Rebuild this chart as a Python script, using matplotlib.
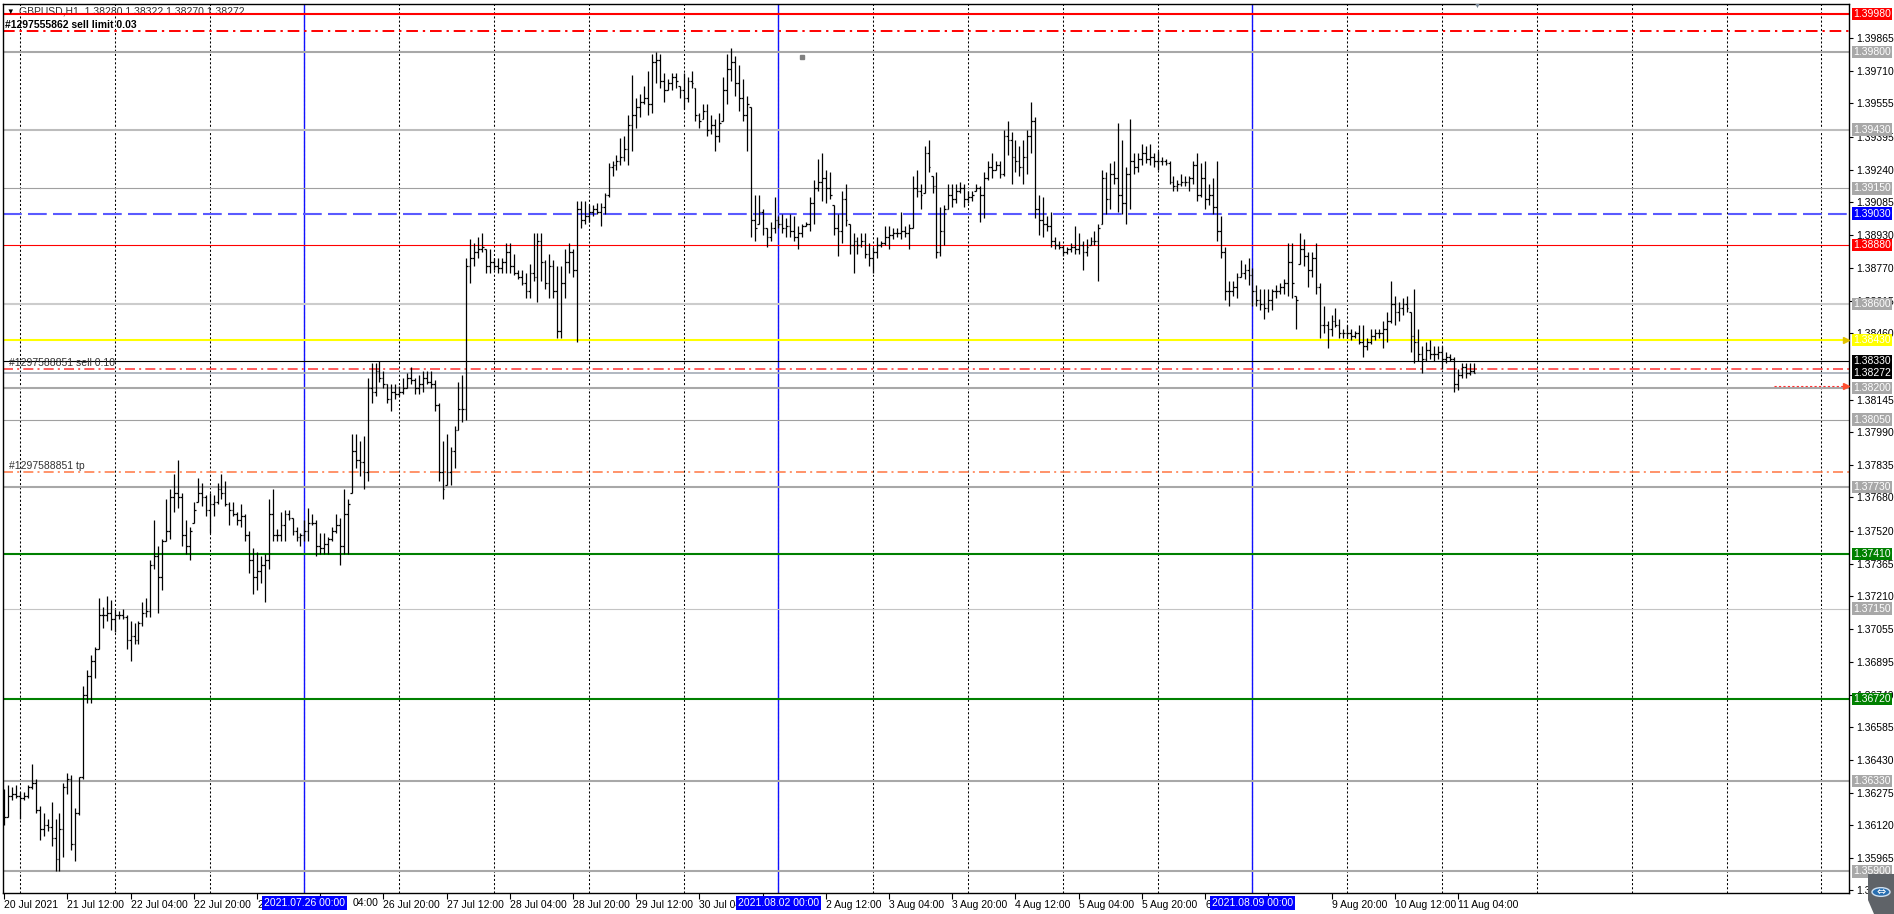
import numpy as np
import matplotlib.pyplot as plt
import matplotlib.transforms as mtransforms
from matplotlib.patches import Polygon, Circle

plt.rcParams['font.family'] = ['Liberation Sans', 'DejaVu Sans']

# GBPUSD H1 bars, prices in points of 0.0001
# week of 20 Jul (bars from 20 Jul 20:00)
high_a = [13629, 13631, 13630, 13631, 13628, 13628, 13631, 13641, 13634, 13621,
          13618, 13615, 13623, 13615, 13618, 13632, 13637, 13636, 13620, 13635,
          13678, 13686, 13693, 13697, 13720, 13716, 13721, 13719, 13715, 13714,
          13715, 13712, 13709, 13708, 13709, 13718, 13720, 13738, 13757, 13745,
          13748, 13767, 13772, 13779, 13786, 13770, 13757, 13754, 13766, 13777,
          13775, 13769, 13770, 13769, 13775, 13779, 13776, 13766, 13766, 13761,
          13765, 13760, 13752, 13744, 13742, 13740, 13741, 13767, 13772, 13753,
          13761, 13762, 13762, 13758, 13754, 13751]
low_a = [13612, 13616, 13624, 13625, 13615, 13624, 13625, 13629, 13618, 13605,
         13607, 13609, 13602, 13590, 13590, 13597, 13627, 13600, 13595, 13617,
         13634, 13670, 13670, 13682, 13696, 13706, 13709, 13705, 13704, 13710,
         13710, 13696, 13690, 13698, 13698, 13707, 13711, 13711, 13734, 13713,
         13724, 13747, 13748, 13761, 13763, 13745, 13741, 13738, 13756, 13766,
         13764, 13759, 13751, 13759, 13765, 13767, 13764, 13755, 13759, 13755,
         13754, 13747, 13732, 13722, 13724, 13727, 13718, 13734, 13747, 13747,
         13747, 13747, 13757, 13750, 13747, 13745]
open_a = [13620, 13616, 13626, 13627, 13626, 13625, 13626, 13630, 13632, 13619,
          13610, 13612, 13611, 13606, 13596, 13610, 13630, 13634, 13603, 13618,
          13635, 13674, 13683, 13690, 13696, 13712, 13712, 13713, 13710, 13712,
          13712, 13711, 13700, 13702, 13700, 13708, 13713, 13714, 13736, 13740,
          13730, 13747, 13752, 13768, 13770, 13768, 13750, 13745, 13756, 13766,
          13770, 13768, 13762, 13765, 13766, 13772, 13770, 13765, 13762, 13760,
          13757, 13759, 13750, 13738, 13730, 13733, 13736, 13738, 13760, 13750,
          13750, 13755, 13760, 13758, 13752, 13749]
close_a = [13616, 13626, 13627, 13626, 13625, 13626, 13630, 13632, 13619, 13610,
           13612, 13611, 13606, 13596, 13610, 13630, 13634, 13603, 13618, 13635,
           13674, 13683, 13690, 13696, 13712, 13712, 13713, 13710, 13712, 13712,
           13711, 13700, 13702, 13700, 13708, 13713, 13714, 13736, 13740, 13730,
           13747, 13752, 13768, 13770, 13768, 13750, 13745, 13752, 13762, 13770,
           13768, 13762, 13765, 13766, 13772, 13770, 13765, 13762, 13760, 13757,
           13759, 13750, 13738, 13730, 13733, 13736, 13738, 13760, 13750, 13750,
           13755, 13760, 13758, 13752, 13749, 13750]

# week of 26 Jul
high_b = [13757, 13763, 13760, 13757, 13751, 13751, 13749, 13754, 13760, 13758,
          13772, 13767, 13798, 13798, 13795, 13797, 13825, 13832, 13832, 13833,
          13828, 13822, 13822, 13822, 13821, 13825, 13827, 13830, 13825, 13826,
          13828, 13828, 13828, 13824, 13813, 13795, 13798, 13792, 13802, 13823,
          13826, 13882, 13891, 13889, 13892, 13894, 13886, 13886, 13882, 13882,
          13882, 13889, 13889, 13884, 13876, 13876, 13875, 13879, 13894, 13894,
          13894, 13881, 13884, 13881, 13878, 13878, 13886, 13889, 13886, 13909,
          13909, 13909, 13907, 13907, 13908, 13908, 13913, 13927, 13928, 13931,
          13939, 13940, 13950, 13969, 13958, 13960, 13964, 13971, 13979, 13980,
          13979, 13970, 13967, 13970, 13970, 13964, 13970, 13968, 13971, 13963,
          13951, 13955, 13955, 13950, 13948, 13951, 13968, 13979, 13982, 13978,
          13974, 13967, 13959, 13954, 13912, 13912, 13905, 13896, 13899, 13911]
low_b = [13747, 13747, 13755, 13740, 13741, 13741, 13741, 13747, 13751, 13736,
         13741, 13741, 13770, 13782, 13778, 13772, 13776, 13813, 13816, 13823,
         13820, 13813, 13809, 13815, 13816, 13817, 13820, 13822, 13817, 13817,
         13818, 13822, 13820, 13809, 13776, 13767, 13774, 13774, 13782, 13800,
         13804, 13805, 13870, 13878, 13882, 13885, 13875, 13875, 13876, 13875,
         13875, 13875, 13875, 13874, 13872, 13869, 13863, 13863, 13871, 13861,
         13871, 13867, 13863, 13863, 13844, 13844, 13863, 13875, 13873, 13842,
         13896, 13898, 13899, 13902, 13903, 13897, 13903, 13911, 13921, 13924,
         13926, 13928, 13926, 13933, 13944, 13949, 13955, 13950, 13951, 13965,
         13963, 13956, 13962, 13962, 13963, 13958, 13953, 13956, 13963, 13947,
         13944, 13948, 13940, 13941, 13933, 13937, 13947, 13955, 13966, 13959,
         13952, 13947, 13933, 13892, 13890, 13898, 13893, 13887, 13890, 13894]
open_b = [13750, 13752, 13756, 13756, 13745, 13744, 13746, 13748, 13752, 13755,
          13745, 13760, 13770, 13790, 13786, 13785, 13780, 13820, 13818, 13828,
          13825, 13822, 13815, 13818, 13817, 13818, 13820, 13825, 13824, 13820,
          13822, 13825, 13823, 13822, 13812, 13780, 13774, 13780, 13790, 13800,
          13810, 13810, 13878, 13882, 13885, 13886, 13886, 13878, 13880, 13878,
          13877, 13880, 13885, 13878, 13875, 13873, 13870, 13866, 13875, 13873,
          13890, 13880, 13870, 13878, 13866, 13847, 13870, 13880, 13885, 13876,
          13905, 13900, 13902, 13904, 13905, 13904, 13906, 13912, 13925, 13926,
          13928, 13930, 13934, 13945, 13950, 13954, 13956, 13958, 13955, 13975,
          13976, 13966, 13962, 13965, 13968, 13964, 13962, 13958, 13966, 13963,
          13950, 13948, 13952, 13943, 13945, 13940, 13947, 13962, 13972, 13975,
          13965, 13958, 13950, 13954, 13900, 13898, 13904, 13896, 13892, 13896]
close_b = [13752, 13756, 13756, 13745, 13744, 13746, 13748, 13752, 13755, 13745,
           13760, 13765, 13790, 13786, 13785, 13780, 13820, 13818, 13828, 13825,
           13822, 13815, 13818, 13817, 13818, 13820, 13825, 13824, 13820, 13822,
           13825, 13823, 13822, 13812, 13780, 13772, 13780, 13790, 13800, 13810,
           13810, 13878, 13882, 13885, 13886, 13887, 13878, 13880, 13878, 13877,
           13880, 13885, 13878, 13875, 13873, 13870, 13866, 13875, 13873, 13890,
           13880, 13870, 13878, 13866, 13847, 13870, 13880, 13885, 13876, 13905,
           13900, 13902, 13904, 13905, 13904, 13906, 13912, 13925, 13926, 13928,
           13930, 13934, 13945, 13950, 13954, 13956, 13958, 13955, 13975, 13976,
           13966, 13962, 13965, 13968, 13966, 13962, 13958, 13966, 13965, 13950,
           13947, 13952, 13943, 13945, 13940, 13946, 13962, 13972, 13975, 13965,
           13958, 13950, 13955, 13900, 13896, 13904, 13896, 13892, 13896, 13900]

# week of 2 Aug
high_c = [13902, 13903, 13901, 13903, 13902, 13897, 13898, 13899, 13911, 13919,
          13929, 13932, 13924, 13923, 13907, 13903, 13914, 13917, 13898, 13894,
          13892, 13894, 13894, 13889, 13887, 13892, 13890, 13897, 13897, 13896,
          13896, 13904, 13897, 13898, 13921, 13924, 13917, 13935, 13938, 13921,
          13923, 13906, 13907, 13917, 13917, 13917, 13918, 13917, 13914, 13914,
          13917, 13916, 13923, 13928, 13932, 13928, 13928, 13943, 13947, 13942,
          13938, 13935, 13938, 13943, 13956, 13949, 13912, 13911, 13902, 13904,
          13892, 13890, 13888, 13887, 13889, 13897, 13894, 13890, 13891, 13892,
          13895, 13898, 13924, 13923, 13927, 13928, 13946, 13938, 13925, 13948,
          13932, 13932, 13936, 13935, 13936, 13932, 13933, 13930, 13929, 13928,
          13921, 13919, 13922, 13921, 13921, 13928, 13932, 13927, 13928, 13917,
          13920, 13928, 13902, 13887, 13871, 13871, 13875, 13881, 13879, 13882]
low_c = [13896, 13894, 13892, 13892, 13890, 13886, 13892, 13897, 13895, 13898,
         13914, 13909, 13908, 13910, 13893, 13883, 13889, 13897, 13884, 13875,
         13884, 13887, 13882, 13878, 13875, 13882, 13887, 13888, 13886, 13891,
         13892, 13891, 13892, 13886, 13896, 13911, 13905, 13913, 13923, 13913,
         13882, 13883, 13888, 13905, 13906, 13908, 13913, 13906, 13908, 13909,
         13914, 13899, 13901, 13919, 13920, 13924, 13920, 13921, 13931, 13917,
         13923, 13921, 13917, 13922, 13932, 13901, 13893, 13892, 13895, 13887,
         13886, 13886, 13883, 13884, 13885, 13884, 13884, 13876, 13883, 13888,
         13888, 13871, 13898, 13903, 13905, 13917, 13904, 13903, 13898, 13905,
         13922, 13923, 13926, 13927, 13926, 13925, 13924, 13926, 13926, 13917,
         13914, 13914, 13916, 13916, 13914, 13917, 13909, 13911, 13905, 13907,
         13903, 13890, 13882, 13862, 13859, 13864, 13863, 13873, 13872, 13869]
open_c = [13900, 13898, 13896, 13897, 13895, 13892, 13894, 13897, 13898, 13908,
          13915, 13918, 13920, 13915, 13907, 13896, 13895, 13910, 13898, 13888,
          13890, 13888, 13890, 13884, 13882, 13885, 13888, 13889, 13892, 13893,
          13894, 13894, 13895, 13894, 13896, 13915, 13914, 13913, 13932, 13921,
          13916, 13885, 13895, 13905, 13912, 13910, 13914, 13915, 13910, 13911,
          13914, 13915, 13912, 13920, 13925, 13924, 13926, 13922, 13940, 13938,
          13930, 13928, 13925, 13930, 13940, 13947, 13905, 13900, 13898, 13897,
          13890, 13888, 13887, 13885, 13886, 13887, 13886, 13888, 13885, 13888,
          13890, 13890, 13898, 13920, 13910, 13922, 13920, 13912, 13908, 13922,
          13928, 13925, 13929, 13932, 13929, 13930, 13928, 13928, 13928, 13927,
          13918, 13916, 13917, 13918, 13918, 13920, 13926, 13912, 13920, 13910,
          13912, 13906, 13895, 13885, 13866, 13866, 13868, 13873, 13875, 13876]
close_c = [13898, 13896, 13897, 13895, 13892, 13894, 13897, 13898, 13908, 13915,
           13918, 13920, 13915, 13912, 13896, 13895, 13910, 13900, 13888, 13890,
           13888, 13890, 13884, 13882, 13885, 13888, 13889, 13892, 13893, 13894,
           13894, 13895, 13894, 13896, 13915, 13914, 13912, 13932, 13925, 13916,
           13885, 13895, 13905, 13912, 13910, 13914, 13915, 13910, 13911, 13912,
           13915, 13912, 13920, 13925, 13924, 13926, 13922, 13940, 13938, 13930,
           13928, 13925, 13930, 13940, 13947, 13905, 13900, 13898, 13897, 13890,
           13888, 13887, 13885, 13886, 13887, 13886, 13888, 13885, 13887, 13890,
           13890, 13896, 13920, 13910, 13922, 13920, 13912, 13908, 13922, 13928,
           13925, 13929, 13932, 13929, 13930, 13928, 13928, 13928, 13927, 13918,
           13916, 13917, 13918, 13918, 13920, 13926, 13912, 13920, 13910, 13912,
           13906, 13895, 13885, 13866, 13866, 13868, 13873, 13875, 13876, 13874]

# 9 Aug - 11 Aug 08:00
high_d = [13877, 13869, 13867, 13867, 13867, 13867, 13869, 13870, 13872, 13889,
          13889, 13864, 13894, 13891, 13885, 13885, 13889, 13870, 13859, 13852,
          13855, 13858, 13853, 13848, 13850, 13848, 13847, 13850, 13850, 13844,
          13848, 13848, 13848, 13852, 13856, 13871, 13864, 13861, 13863, 13864,
          13856, 13867, 13848, 13840, 13842, 13843, 13840, 13840, 13840, 13837,
          13836, 13835, 13829, 13832, 13832, 13832, 13832]
low_d = [13859, 13859, 13857, 13853, 13856, 13857, 13863, 13865, 13865, 13864,
         13863, 13848, 13879, 13878, 13868, 13873, 13865, 13844, 13846, 13839,
         13845, 13849, 13844, 13844, 13844, 13843, 13844, 13841, 13835, 13838,
         13841, 13843, 13844, 13839, 13842, 13851, 13850, 13852, 13855, 13856,
         13837, 13832, 13833, 13827, 13833, 13834, 13833, 13834, 13829, 13832,
         13833, 13818, 13819, 13825, 13825, 13826, 13827]
open_d = [13874, 13866, 13862, 13860, 13858, 13862, 13866, 13866, 13868, 13870,
          13880, 13864, 13879, 13886, 13883, 13876, 13882, 13868, 13850, 13850,
          13848, 13852, 13850, 13846, 13846, 13846, 13845, 13846, 13842, 13840,
          13842, 13845, 13846, 13846, 13848, 13852, 13860, 13856, 13858, 13860,
          13856, 13845, 13842, 13836, 13834, 13838, 13836, 13836, 13837, 13834,
          13835, 13834, 13822, 13826, 13830, 13827, 13828]
close_d = [13866, 13862, 13860, 13858, 13862, 13866, 13866, 13868, 13870, 13880,
           13870, 13862, 13886, 13883, 13876, 13882, 13868, 13850, 13850, 13848,
           13852, 13850, 13846, 13846, 13846, 13845, 13846, 13842, 13840, 13842,
           13845, 13846, 13846, 13848, 13852, 13860, 13856, 13858, 13860, 13858,
           13845, 13842, 13836, 13834, 13838, 13836, 13836, 13837, 13834, 13835,
           13834, 13822, 13826, 13830, 13827, 13828, 13827]

# horizontal objects on the chart
level_prices = [1.39980, 1.39900, 1.39800, 1.39430, 1.39150, 1.39030, 1.38880,
                1.38600, 1.38430, 1.38330, 1.38290, 1.38272, 1.38200, 1.38050,
                1.37802, 1.37730, 1.37410, 1.37150, 1.36720, 1.36330, 1.35900]
level_styles = [('#ff0000', 1.5, '-'), ('#ff0000', 1.4, (0, (6, 2.5, 1.2, 2.5))),
                ('#a8a8a8', 1.5, '-'), ('#bcbcbc', 1.5, '-'), ('#a0a0a0', 0.8, '-'),
                ('#5a5aff', 1.5, (0, (9, 3))), ('#ff0000', 0.8, '-'),
                ('#cccccc', 1.5, '-'), ('#ffff00', 1.5, '-'), ('#000000', 0.8, '-'),
                ('#ff4040', 1.2, (0, (6, 2.5, 1.2, 2.5))), ('#a3acb6', 1.2, '-'),
                ('#a8a8a8', 1.5, '-'), ('#a0a0a0', 0.8, '-'),
                ('#ff8050', 1.2, (0, (6, 2.5, 1.2, 2.5))), ('#a8a8a8', 1.5, '-'),
                ('#008000', 1.5, '-'), ('#c4c4c4', 0.8, '-'), ('#008000', 1.5, '-'),
                ('#a8a8a8', 1.5, '-'), ('#a8a8a8', 1.5, '-')]

# coloured price tags on the right scale
tag_prices = [1.39980, 1.39800, 1.39430, 1.39150, 1.39030, 1.38880, 1.38600,
              1.38430, 1.38330, 1.38272, 1.38200, 1.38050, 1.37730, 1.37410,
              1.37150, 1.36720, 1.36330, 1.35900]
tag_colors = ['#ff0000', '#a8a8a8', '#a8a8a8', '#a8a8a8', '#0000ff', '#ff0000',
              '#a8a8a8', '#ffff00', '#000000', '#000000', '#a8a8a8', '#a8a8a8',
              '#a8a8a8', '#008000', '#a8a8a8', '#008000', '#a8a8a8', '#a8a8a8']

scale_prices = [1.39865, 1.39710, 1.39555, 1.39395, 1.39240, 1.39085, 1.38930,
                1.38770, 1.38615, 1.38460, 1.38145, 1.37990, 1.37835,
                1.37680, 1.37520, 1.37365, 1.37210, 1.37055, 1.36895, 1.36740,
                1.36585, 1.36430, 1.36275, 1.36120, 1.35965, 1.35810]

# time scale: bar index of each label, text as far as it is not covered
time_pos = [0, 16, 32, 48, 64, 80, 96, 112, 128, 144, 160, 176, 192, 208, 224,
            240, 256, 272, 288, 304, 320, 336, 352, 368]
time_labels = ['20 Jul 2021', '21 Jul 12:00', '22 Jul 04:00', '22 Jul 20:00',
               '23', '', '26 Jul 20:00', '27 Jul 12:00',
               '28 Jul 04:00', '28 Jul 20:00', '29 Jul 12:00', '30 Jul 04:',
               '', '2 Aug 12:00', '3 Aug 04:00', '3 Aug 20:00',
               '4 Aug 12:00', '5 Aug 04:00', '5 Aug 20:00', '6',
               '', '9 Aug 20:00', '10 Aug 12:00', '11 Aug 04:00']
week_pos = [76, 196, 316]
week_labels = ['2021.07.26 00:00', '2021.08.02 00:00', '2021.08.09 00:00']
day_grid = list(range(4, 467, 24))

high = np.array(high_a + high_b + high_c + high_d) / 10000
low = np.array(low_a + low_b + low_c + low_d) / 10000
opn = np.array(open_a + open_b + open_c + open_d) / 10000
cls = np.array(close_a + close_b + close_c + close_d) / 10000
x = np.arange(len(high))

W, H = 1894, 914
fig = plt.figure(figsize=(W / 100, H / 100), dpi=100)
ax = fig.add_axes([3 / W, 21 / H, 1846 / W, 889 / H])
ax.set_xlim(-0.3, 467.0)
ax.set_ylim(1.35797, 1.40028)
for s in ax.spines.values():
    s.set_linewidth(1.0)
    s.set_color('black')


def px(xp, yp):
    # pixel position of the picture -> axes fraction
    return (xp - 3) / 1846, (893 - yp) / 889


# grid and week separators
for g in day_grid:
    ax.axvline(g, color='black', lw=0.75, ls=(0, (2, 2)), zorder=1)
for w in week_pos:
    ax.axvline(w, color='#1010ff', lw=1.0, zorder=2)

for p, (c, lw, ls) in zip(level_prices, level_styles):
    ax.axhline(p, color=c, lw=lw, ls=ls, zorder=2)

# short red dotted order line at the right
ax.hlines(1.38210, 448, 466.5, colors='#ff3030', lw=0.8, ls=(0, (2, 2)), zorder=2)

# OHLC bars
ax.vlines(x, low, high, colors='black', lw=0.9, zorder=4)
ax.hlines(opn, x - 0.45, x, colors='black', lw=0.9, zorder=4)
ax.hlines(cls, x, x + 0.45, colors='black', lw=0.9, zorder=4)

# small chart objects
ax.plot([202], [1.39775], marker='s', ms=2.5, color='#808080', zorder=4)
ax.plot([466.3], [1.38430], marker='>', ms=4, color='#e0c000', zorder=5, clip_on=False)
ax.plot([466.3], [1.38210], marker='>', ms=4, color='#ff5030', zorder=5, clip_on=False)

# right price scale
ax.yaxis.tick_right()
ax.set_yticks(scale_prices)
ax.set_yticklabels([f'{p:.5f}' for p in scale_prices])
ax.tick_params(axis='y', length=3, width=0.8, pad=2, labelsize=7.5, colors='black')

trans_r = mtransforms.blended_transform_factory(ax.transAxes, ax.transData)
for p, c in zip(tag_prices, tag_colors):
    ax.text(1.0 + 4 / 1846, p, f'{p:.5f}', transform=trans_r, ha='left', va='center',
            fontsize=7.5, color='white', zorder=10, clip_on=False,
            bbox=dict(boxstyle='square,pad=0.12', fc=c, ec='none'))

# time scale
ax.set_xticks(time_pos)
ax.set_xticklabels(time_labels)
ax.tick_params(axis='x', length=4, width=0.8, pad=1, labelsize=7.5, colors='black')
for lab in ax.get_xticklabels():
    lab.set_horizontalalignment('left')
xtr = ax.get_xaxis_transform()
# visible rest of the "26 Jul 04:00" label next to the week box
ax.text(88.3, -0.0115, '04:00', transform=xtr, ha='left', va='center',
        fontsize=7.5, color='black', zorder=11, clip_on=False)
for w, t in zip(week_pos, week_labels):
    ax.text(w, -0.0115, t, transform=xtr, ha='center', va='center',
            fontsize=7.5, color='white', zorder=10, clip_on=False,
            bbox=dict(boxstyle='square,pad=0.2', fc='#0000ff', ec='none'))

# texts on the chart
ax.text(*px(6, 12), '\u25bc', transform=ax.transAxes, fontsize=5.5, va='center',
        ha='left', color='black', zorder=3)
ax.text(*px(19, 12), 'GBPUSD,H1  1.38280 1.38322 1.38270 1.38272', transform=ax.transAxes,
        fontsize=7.5, va='center', ha='left', color='#333333', zorder=1.5)
ax.text(*px(5, 25), '#1297555862 sell limit 0.03', transform=ax.transAxes, fontsize=7.5,
        va='center', ha='left', color='black', weight='bold', zorder=3)
ax.text(*px(9, 363), '#1297588851 sell 0.10', transform=ax.transAxes, fontsize=7.5,
        va='center', ha='left', color='#333333', zorder=3)
ax.text(*px(9, 466), '#1297588851 tp', transform=ax.transAxes, fontsize=7.5,
        va='center', ha='left', color='#333333', zorder=3)
ax.text(*px(1477, 6), '\u25bc', transform=ax.transAxes, fontsize=5, va='center',
        ha='center', color='#7a8a9a', zorder=3)

# navigation button at the bottom right corner
fig.add_artist(Polygon([(1868 / W, 1 - 874 / H), (1894 / W, 1 - 874 / H),
                        (1894 / W, 0), (1874 / W, 0), (1868 / W, 1 - 900 / H)],
                       closed=True, transform=fig.transFigure, fc='#5f6368', ec='none'))
fig.add_artist(Circle((1881 / W, 1 - 892 / H), 9 / W, transform=fig.transFigure,
                      fc='#2a6fb0', ec='#d0e0f0', lw=1))
fig.text(1881 / W, 1 - 892 / H, '\u21d4', fontsize=8, color='white', ha='center',
         va='center', family='DejaVu Sans')

fig.savefig('out.png', dpi=100, facecolor='white')
